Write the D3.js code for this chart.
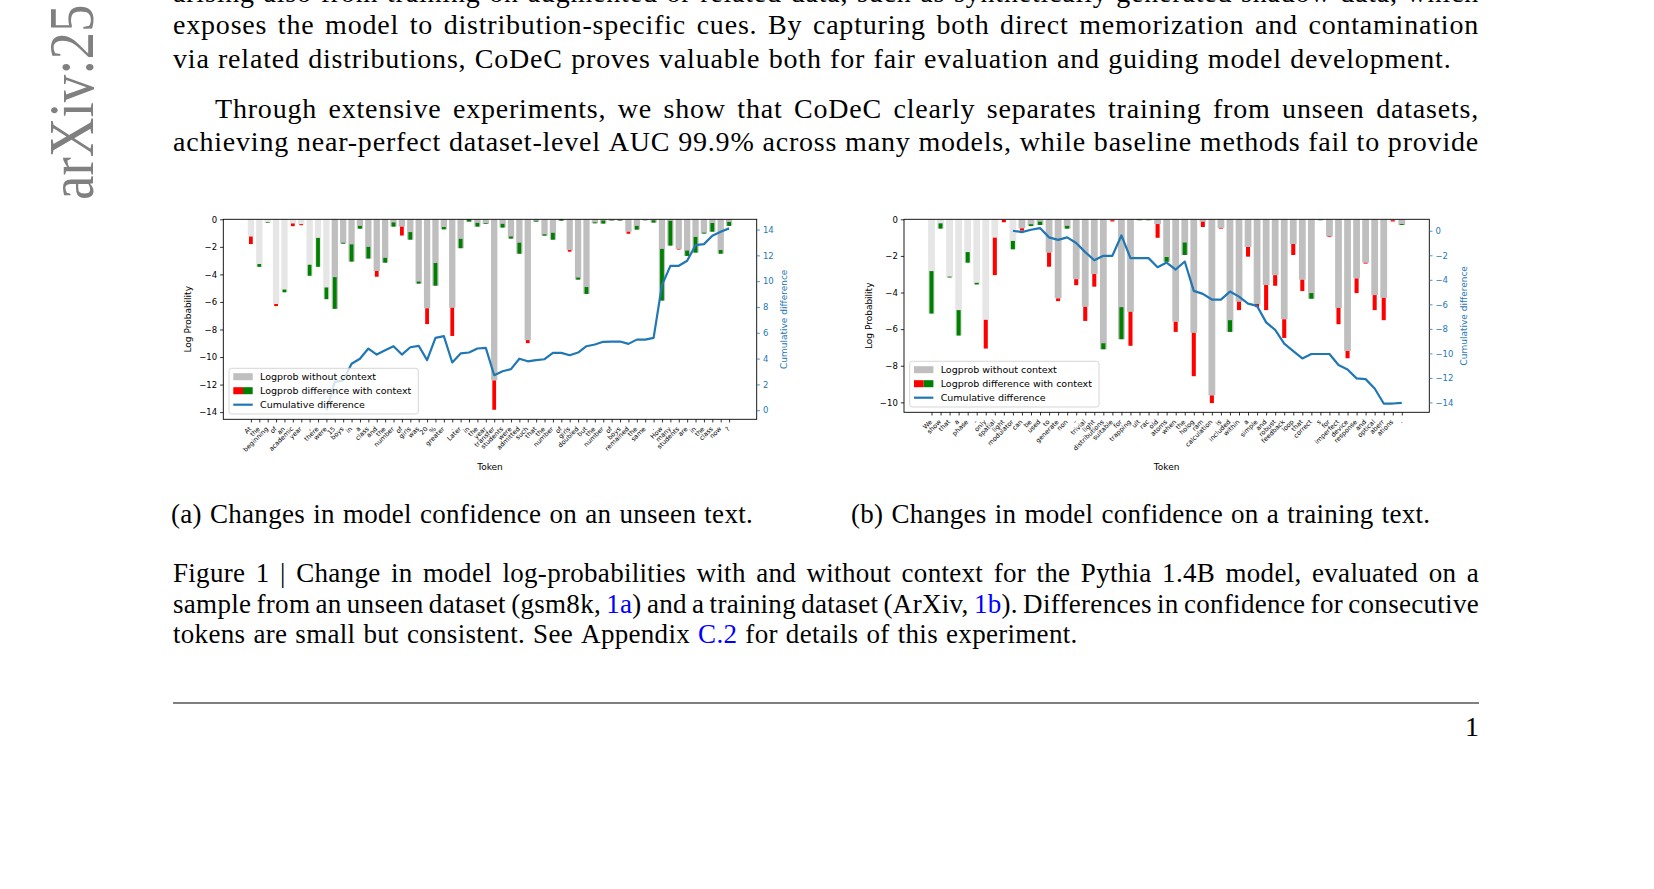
<!DOCTYPE html>
<html>
<head>
<meta charset="utf-8">
<script src="https://cdn.jsdelivr.net/npm/d3@7"></script>
<style>
  body { margin: 0; background: #fff; }
  svg { display: block; }
</style>
</head>
<body>
<script>
// ---- left chart: unseen text (gsm8k) ----
var leftTokens = ["At", "the", "beginning", "of", "an", "academic", "year", ",", "there", "were",
  "15", "boys", "in", "a", "class", "and", "the", "number", "of", "girls",
  "was", "20", "%", "greater", ".", "Later", "in", "the", "year", "transfer",
  "students", "were", "admitted", "such", "that", "the", "number", "of", "girls", "doubled",
  "but", "the", "number", "of", "boys", "remained", "the", "same", ".", "How",
  "many", "students", "are", "in", "the", "class", "now", "?"];
// logprob without context
var leftBase = [-1.25, -3.45, -0.25, -6.15, -5.3, -0.3, -0.35, -4.1, -3.45, -5.8,
  -6.5, -1.77, -3.07, -0.68, -2.85, -3.75, -3.15, -0.53, -0.53, -1.48,
  -4.67, -6.46, -4.82, -0.73, -6.42, -2.1, -0.17, -0.53, -0.34, -11.7,
  -0.6, -1.4, -2.5, -8.77, -0.17, -1.19, -1.48, -0.1, -2.23, -4.38,
  -5.42, -0.29, -0.31, -0.1, -0.1, -0.9, -0.75, -0.07, -0.24, -5.9,
  -1.91, -2.15, -2.66, -2.42, -1.04, -0.9, -2.5, -0.48];
// with context minus without context
var leftDiff = [-0.55, 0.2, 0.05, -0.15, 0.2, -0.2, -0.08, 0.8, 2.1, 0.85,
  2.3, 0.07, 1.25, 0.2, 0.85, -0.42, 0.35, 0.3, -0.65, 0.55,
  0.15, -1.15, 1.65, 0.17, -2.05, 0.68, 0.17, 0.27, 0.05, -2.13,
  0.27, 0.15, 0.8, -0.22, 0.07, 0.1, 0.5, 0.1, -0.12, 0.15,
  0.5, 0.07, 0.22, 0.03, 0.04, -0.15, 0.27, 0.03, 0.17, 3.75,
  1.8, -0.05, 0.39, 1.14, 0.07, 0.63, 0.27, 0.29];
// cumulative difference (right axis)
var leftCum = [null, null, null, null, null, null, null, null, null, 0,
  2.2, 2.3, 3.6, 3.99, 4.78, 4.31, 4.65, 4.96, 4.31, 4.88,
  4.99, 3.88, 5.61, 5.74, 3.7, 4.4, 4.47, 4.78, 4.83, 2.71,
  3.02, 3.18, 3.99, 3.79, 3.88, 3.95, 4.44, 4.44, 4.26, 4.47,
  4.96, 5.09, 5.3, 5.32, 5.32, 5.14, 5.47, 5.47, 5.61, 9.69,
  11.19, 11.19, 11.58, 12.79, 12.87, 13.52, 13.83, 14.09];
var leftYTicks = [0, -2, -4, -6, -8, -10, -12, -14];
var leftY2Ticks = [0, 2, 4, 6, 8, 10, 12, 14];

// ---- right chart: training text (ArXiv) ----
var rightTokens = ["We", "show", "that", "a", "phase", "-", "only", "spatial", "light", "modulator",
  "can", "be", "used", "to", "generate", "non", "-", "trivial", "light", "distributions",
  "suitable", "for", "trapping", "ult", "rac", "old", "atoms", "when", "the", "holog",
  "ram", "calculation", "is", "included", "within", "a", "simple", "and", "robust", "feedback",
  "loop", "that", "correct", "s", "for", "imperfect", "device", "response", "and", "optical",
  "aberr", "ations", "."];
var rightBase = [-5.15, -0.51, -3.18, -6.35, -2.37, -3.56, -5.49, -1.0, -0.03, -1.64,
  -0.49, -0.37, -0.31, -1.82, -4.32, -0.51, -3.27, -4.78, -2.99, -7.1,
  -0.05, -6.55, -5.05, -0.05, -0.05, -0.26, -2.32, -5.6, -1.95, -6.2,
  -0.13, -9.62, -0.47, -6.15, -4.5, -1.51, -4.62, -3.59, -3.05, -5.46,
  -1.35, -3.3, -4.34, -0.05, -0.93, -4.84, -7.19, -3.23, -2.37, -4.14,
  -4.29, -0.05, -0.31];
var rightDiff = [2.32, 0.29, 0.05, 1.39, 0.58, 0.09, -1.57, -2.05, -0.13, 0.46,
  -0.13, 0.1, 0.18, -0.77, -0.15, 0.15, -0.33, -0.77, -0.69, 0.33,
  -0.07, 1.75, -1.86, 0.03, 0.02, -0.75, 0.26, -0.55, 0.68, -2.37,
  -0.29, -0.42, -0.04, 0.64, -0.46, -0.53, -0.18, -1.37, -0.58, -1.02,
  -0.6, -0.62, 0.31, 0.02, -0.04, -0.89, -0.4, -0.8, -0.05, -0.82,
  -1.22, -0.07, 0.05];
var rightCum = [null, null, null, null, null, null, null, null, null, 0,
  -0.11, 0.08, 0.22, -0.54, -0.74, -0.54, -1.0, -1.74, -2.4, -2.04,
  -2.04, -0.38, -2.23, -2.23, -2.23, -2.97, -2.59, -3.16, -2.51, -4.9,
  -5.15, -5.61, -5.61, -4.96, -5.37, -5.94, -6.13, -7.47, -8.09, -9.21,
  -9.81, -10.41, -10.05, -10.05, -10.05, -10.95, -11.31, -12.04, -12.1, -12.86,
  -14.09, -14.09, -14.03];
var rightYTicks = [0, -2, -4, -6, -8, -10];
var rightY2Ticks = [0, -2, -4, -6, -8, -10, -12, -14];

// first tokens are the prompt, drawn lighter
var promptLen = 10;
var legendLabels = ["Logprob without context", "Logprob difference with context", "Cumulative difference"];

// ---- page text ----
var paragraphLines = [
  "arising also from training on augmented or related data, such as synthetically generated shadow data, which",
  "exposes the model to distribution-specific cues. By capturing both direct memorization and contamination",
  "via related distributions, CoDeC proves valuable both for fair evaluation and guiding model development.",
  "Through extensive experiments, we show that CoDeC clearly separates training from unseen datasets,",
  "achieving near-perfect dataset-level AUC 99.9% across many models, while baseline methods fail to provide"
];
var subCaptions = ["(a) Changes in model confidence on an unseen text.",
  "(b) Changes in model confidence on a training text."];
var captionLines = [
  "Figure 1 | Change in model log-probabilities with and without context for the Pythia 1.4B model, evaluated on a",
  "sample from an unseen dataset (gsm8k, {1a}) and a training dataset (ArXiv, {1b}). Differences in confidence for consecutive",
  "tokens are small but consistent. See Appendix {C.2} for details of this experiment."
];

var w = 1654, h = 889;
var blue = "#1f77b4", linkColor = "#0000ff";

var svg = d3.select("body").append("svg")
  .attr("width", w)
  .attr("height", h);
svg.append("rect").attr("width", w).attr("height", h).attr("fill", "#fff");

// arXiv stamp in the margin
svg.append("text")
  .attr("transform", "translate(93,200) rotate(-90) scale(1,1.15)")
  .attr("font-family", "'Liberation Serif', serif")
  .attr("font-size", 55)
  .attr("fill", "#808080")
  .text("arXiv:25");

var page = svg.append("g").attr("font-family", "'Liberation Serif', serif");

// one line of text, words spread over [x0, x1] when justified; {..} marks a link
function writeLine(str, x0, x1, y, size, spacing, justify) {
  var words = str.split(" ");
  var nodes = words.map(function(word) {
    var t = page.append("text")
      .attr("y", y)
      .attr("font-size", size)
      .attr("letter-spacing", spacing);
    word.split(/(\{[^}]*\})/).forEach(function(part) {
      if (!part) return;
      var link = part.charAt(0) === "{";
      t.append("tspan")
        .attr("fill", link ? linkColor : "#000")
        .text(link ? part.slice(1, -1) : part);
    });
    return t;
  });
  var widths = nodes.map(function(t) { return t.node().getComputedTextLength(); });
  var gap = justify ? (x1 - x0 - d3.sum(widths)) / (words.length - 1) : size * 0.3;
  var x = x0;
  nodes.forEach(function(t, i) {
    t.attr("x", x);
    x += widths[i] + gap;
  });
}

var textLeft = 173, textRight = 1479;
writeLine(paragraphLines[0], textLeft, textRight, 2, 28, 0.8, true);
writeLine(paragraphLines[1], textLeft, textRight, 34, 28, 0.8, true);
writeLine(paragraphLines[2], textLeft, textRight, 67.5, 28, 0.8, false);
writeLine(paragraphLines[3], textLeft + 42, textRight, 118, 28, 0.8, true);
writeLine(paragraphLines[4], textLeft, textRight, 150.5, 28, 0.8, true);

writeLine(subCaptions[0], 171, 0, 523, 27, 0.3, false);
writeLine(subCaptions[1], 851, 0, 523, 27, 0.3, false);

writeLine(captionLines[0], textLeft, textRight, 582, 27, 0.3, true);
writeLine(captionLines[1], textLeft, textRight, 612.5, 27, 0.3, true);
writeLine(captionLines[2], textLeft, textRight, 643, 27, 0.3, false);

// footer rule and page number
svg.append("line")
  .attr("x1", textLeft).attr("x2", textRight)
  .attr("y1", 703).attr("y2", 703)
  .attr("stroke", "#808080")
  .attr("stroke-width", 2);
page.append("text")
  .attr("x", textRight)
  .attr("y", 736)
  .attr("font-size", 28)
  .attr("text-anchor", "end")
  .text("1");

function styleAxis(sel, color, size) {
  sel.select(".domain").remove();
  sel.attr("font-family", null).attr("font-size", null);
  sel.selectAll(".tick line").attr("stroke", color).attr("stroke-width", 0.8);
  sel.selectAll(".tick text").attr("fill", color).attr("font-size", size);
}

function drawChart(box, tokens, base, diff, cum, yTicks, y2Ticks) {
  var g = svg.append("g").attr("font-family", "'DejaVu Sans', sans-serif");
  var n = tokens.length;

  // matplotlib style limits: 5% margins, bars stick to 0 at the top
  var pad = 0.05 * (n - 0.2);
  var x = d3.scaleLinear()
    .domain([-0.4 - pad, n - 0.6 + pad])
    .range([box.x0, box.x1]);
  var low = d3.min(base, function(b, i) { return Math.min(b, b + diff[i]); });
  var y = d3.scaleLinear()
    .domain([low * 1.05, 0])
    .range([box.y1, box.y0]);
  var ext = d3.extent(cum);
  var m = 0.05 * (ext[1] - ext[0]);
  var y2 = d3.scaleLinear()
    .domain([ext[0] - m, ext[1] + m])
    .range([box.y1, box.y0]);

  var bw = x(0.75) - x(0);
  var dw = x(0.45) - x(0);

  g.selectAll(".base")
    .data(base)
    .enter()
    .append("rect")
    .attr("class", "base")
    .attr("x", function(d, i) { return x(i) - bw / 2; })
    .attr("y", y(0))
    .attr("width", bw)
    .attr("height", function(d) { return y(d) - y(0); })
    .attr("fill", function(d, i) { return i < promptLen ? "#e6e6e6" : "#bfbfbf"; });

  g.selectAll(".diff")
    .data(diff)
    .enter()
    .append("rect")
    .attr("class", "diff")
    .attr("x", function(d, i) { return x(i) - dw / 2; })
    .attr("y", function(d, i) { return y(Math.max(base[i], base[i] + d)); })
    .attr("width", dw)
    .attr("height", function(d) { return Math.abs(y(d) - y(0)); })
    .attr("fill", function(d) { return d < 0 ? "#ff0000" : "#008000"; });

  var line = d3.line()
    .defined(function(d) { return d != null; })
    .x(function(d, i) { return x(i); })
    .y(function(d) { return y2(d); });
  g.append("path")
    .datum(cum)
    .attr("d", line)
    .attr("fill", "none")
    .attr("stroke", blue)
    .attr("stroke-width", 2.2)
    .attr("stroke-linejoin", "round");

  // spines
  g.append("rect")
    .attr("x", box.x0).attr("y", box.y0)
    .attr("width", box.x1 - box.x0).attr("height", box.y1 - box.y0)
    .attr("fill", "none")
    .attr("stroke", "#000")
    .attr("stroke-width", 0.9);

  g.append("g")
    .attr("transform", "translate(" + box.x0 + ",0)")
    .call(d3.axisLeft(y).tickValues(yTicks).tickSize(3.2).tickPadding(3))
    .call(styleAxis, "#000", 8.5);

  g.append("g")
    .attr("transform", "translate(" + box.x1 + ",0)")
    .call(d3.axisRight(y2).tickValues(y2Ticks).tickSize(3.2).tickPadding(3))
    .call(styleAxis, blue, 8.5);

  var xg = g.append("g")
    .attr("transform", "translate(0," + box.y1 + ")")
    .call(d3.axisBottom(x)
      .tickValues(d3.range(n))
      .tickSize(3.2)
      .tickFormat(function(i) { return tokens[i]; }))
    .call(styleAxis, "#000", 6.5);
  xg.selectAll(".tick text")
    .attr("y", null)
    .attr("dy", null)
    .attr("text-anchor", "end")
    .attr("transform", "translate(0.5,10) rotate(-45)");

  // axis titles
  g.append("text")
    .attr("transform", "translate(" + (box.x0 - 35.5) + "," + ((box.y0 + box.y1) / 2) + ") rotate(-90)")
    .attr("text-anchor", "middle")
    .attr("dy", "0.35em")
    .attr("font-size", 9)
    .text("Log Probability");
  g.append("text")
    .attr("transform", "translate(" + box.y2Label + "," + ((box.y0 + box.y1) / 2) + ") rotate(-90)")
    .attr("text-anchor", "middle")
    .attr("dy", "0.35em")
    .attr("font-size", 9)
    .attr("fill", blue)
    .text("Cumulative difference");
  g.append("text")
    .attr("x", (box.x0 + box.x1) / 2)
    .attr("y", 470)
    .attr("text-anchor", "middle")
    .attr("font-size", 9)
    .text("Token");

  // legend
  var lg = g.append("g")
    .attr("transform", "translate(" + (box.x0 + 5.7) + "," + (box.y1 - 51) + ")");
  lg.append("rect")
    .attr("width", 189.3)
    .attr("height", 45.7)
    .attr("rx", 2.5)
    .attr("fill", "#fff")
    .attr("fill-opacity", 0.8)
    .attr("stroke", "#cccccc")
    .attr("stroke-width", 0.8);
  var rows = [8.4, 22.4, 36.4];
  lg.append("rect").attr("x", 4.3).attr("y", rows[0] - 3.5).attr("width", 19.4).attr("height", 7).attr("fill", "#bfbfbf");
  lg.append("rect").attr("x", 4.3).attr("y", rows[1] - 3.5).attr("width", 9.7).attr("height", 7).attr("fill", "#ff0000");
  lg.append("rect").attr("x", 14).attr("y", rows[1] - 3.5).attr("width", 9.7).attr("height", 7).attr("fill", "#008000");
  lg.append("line")
    .attr("x1", 4.3).attr("x2", 23.7)
    .attr("y1", rows[2]).attr("y2", rows[2])
    .attr("stroke", blue)
    .attr("stroke-width", 2.2);
  lg.selectAll(".lab")
    .data(legendLabels)
    .enter()
    .append("text")
    .attr("x", 31)
    .attr("y", function(d, i) { return rows[i]; })
    .attr("dy", "0.35em")
    .attr("font-size", 9.5)
    .text(function(d) { return d; });
}

drawChart({ x0: 223.3, x1: 756.7, y0: 219.3, y1: 419.3, y2Label: 784 },
  leftTokens, leftBase, leftDiff, leftCum, leftYTicks, leftY2Ticks);
drawChart({ x0: 904, x1: 1429.3, y0: 219.3, y1: 412.3, y2Label: 1463.5 },
  rightTokens, rightBase, rightDiff, rightCum, rightYTicks, rightY2Ticks);
</script>
</body>
</html>
